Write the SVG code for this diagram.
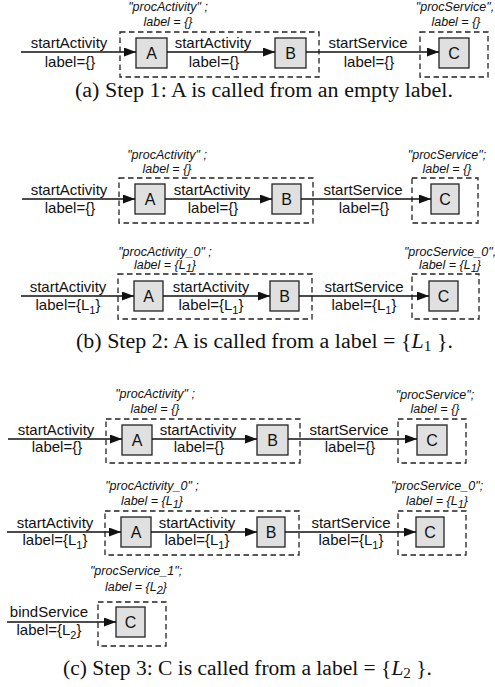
<svg xmlns="http://www.w3.org/2000/svg" width="495" height="687" viewBox="0 0 495 687">
<defs>
<marker id="arr" markerUnits="userSpaceOnUse" markerWidth="13" markerHeight="10" refX="12" refY="4.5" orient="auto">
<path d="M0,0 L12,4.5 L0,9 z" fill="#111"/>
</marker>
<style>
.box{fill:#e0e0e0;stroke:#222;stroke-width:1.3}
.proc{fill:none;stroke:#222;stroke-width:1.3;stroke-dasharray:5.5 3.5}
.edge{stroke:#111;stroke-width:1.3;fill:none;marker-end:url(#arr)}
.lbl{font-family:"Liberation Sans",Arial,sans-serif;font-size:15px;text-anchor:middle;fill:#111}
.nd{font-family:"Liberation Sans",Arial,sans-serif;font-size:16px;text-anchor:middle;fill:#111}
.ttl{font-family:"Liberation Sans",Arial,sans-serif;font-size:12.5px;font-style:italic;text-anchor:middle;fill:#111}
.cap{font-family:"Liberation Serif","Times New Roman",serif;font-size:20px;fill:#111}
.sub{font-size:11px}
.csub{font-size:14px}
</style>
</defs>
<rect width="495" height="687" fill="#fff"/>

<!-- (a) step 1 -->
<g id="a-procActivity"><rect class="proc" x="120" y="32" width="199" height="45"/>
<text class="ttl" x="168" y="11">"procActivity" ;</text><text class="ttl" x="168" y="26">label = {}</text></g>
<g id="a-procService"><rect class="proc" x="420" y="32" width="68" height="45"/>
<text class="ttl" x="455" y="11">"procService",</text><text class="ttl" x="456" y="26">label = {}</text></g>
<g id="a-A"><rect class="box" x="136" y="38" width="31" height="30"/><text class="nd" x="151.5" y="59">A</text></g>
<g id="a-B"><rect class="box" x="275" y="38" width="31" height="30"/><text class="nd" x="290.5" y="59">B</text></g>
<g id="a-C"><rect class="box" x="439" y="38" width="30" height="30"/><text class="nd" x="454" y="59">C</text></g>
<g id="a-edges">
<path class="edge" d="M21,52H136"/><text class="lbl" x="69" y="48">startActivity</text><text class="lbl" x="70" y="67">label={}</text>
<path class="edge" d="M167,52H275"/><text class="lbl" x="213" y="48">startActivity</text><text class="lbl" x="214" y="67">label={}</text>
<path class="edge" d="M306,52H439"/><text class="lbl" x="368" y="48">startService</text><text class="lbl" x="369" y="67">label={}</text>
</g>
<text class="cap" x="75" y="97" textLength="378" lengthAdjust="spacingAndGlyphs">(a) Step 1: A is called from an empty label.</text>

<!-- (b) step 2, first call -->
<g id="b1-procActivity"><rect class="proc" x="119" y="178" width="194" height="45"/>
<text class="ttl" x="167" y="159">"procActivity" ;</text><text class="ttl" x="167" y="173">label = {}</text></g>
<g id="b1-procService"><rect class="proc" x="412" y="178" width="66" height="45"/>
<text class="ttl" x="447" y="159">"procService";</text><text class="ttl" x="447" y="173">label = {}</text></g>
<g id="b1-A"><rect class="box" x="135" y="184" width="30" height="30"/><text class="nd" x="150" y="205">A</text></g>
<g id="b1-B"><rect class="box" x="272" y="184" width="29" height="30"/><text class="nd" x="286.5" y="205">B</text></g>
<g id="b1-C"><rect class="box" x="431" y="184" width="28" height="30"/><text class="nd" x="445" y="205">C</text></g>
<g id="b1-edges">
<path class="edge" d="M22,199H135"/><text class="lbl" x="69" y="195">startActivity</text><text class="lbl" x="70" y="213">label={}</text>
<path class="edge" d="M165,199H272"/><text class="lbl" x="212" y="195">startActivity</text><text class="lbl" x="213" y="213">label={}</text>
<path class="edge" d="M301,199H431"/><text class="lbl" x="363" y="195">startService</text><text class="lbl" x="364" y="213">label={}</text>
</g>

<!-- (b) step 2, call from L1 -->
<g id="b2-procActivity"><rect class="proc" x="118" y="274" width="194" height="45"/>
<text class="ttl" x="165" y="256">"procActivity_0" ;</text><text class="ttl" x="165" y="269">label = {L<tspan class="sub" dy="3">1</tspan><tspan dy="-3">}</tspan></text></g>
<g id="b2-procService"><rect class="proc" x="412" y="274" width="67" height="45"/>
<text class="ttl" x="450" y="256">"procService_0",</text><text class="ttl" x="450" y="269">label = {L<tspan class="sub" dy="3">1</tspan><tspan dy="-3">}</tspan></text></g>
<g id="b2-A"><rect class="box" x="134" y="281" width="29" height="30"/><text class="nd" x="148.5" y="302">A</text></g>
<g id="b2-B"><rect class="box" x="270" y="281" width="29" height="30"/><text class="nd" x="284.5" y="302">B</text></g>
<g id="b2-C"><rect class="box" x="429" y="281" width="29" height="30"/><text class="nd" x="443.5" y="302">C</text></g>
<g id="b2-edges">
<path class="edge" d="M21,296H134"/><text class="lbl" x="68" y="292">startActivity</text><text class="lbl" x="68" y="310">label={L<tspan class="sub" dy="4">1</tspan><tspan dy="-4">}</tspan></text>
<path class="edge" d="M163,296H270"/><text class="lbl" x="211" y="292">startActivity</text><text class="lbl" x="211" y="310">label={L<tspan class="sub" dy="4">1</tspan><tspan dy="-4">}</tspan></text>
<path class="edge" d="M299,296H429"/><text class="lbl" x="364" y="292">startService</text><text class="lbl" x="364" y="310">label={L<tspan class="sub" dy="4">1</tspan><tspan dy="-4">}</tspan></text>
</g>
<text class="cap" x="76" y="348" textLength="377" lengthAdjust="spacingAndGlyphs">(b) Step 2: A is called from a label = {<tspan font-style="italic">L</tspan><tspan class="csub" dy="3">1</tspan><tspan dy="-3"> }.</tspan></text>

<!-- (c) step 3, first call -->
<g id="c1-procActivity"><rect class="proc" x="106" y="419" width="194" height="44"/>
<text class="ttl" x="155" y="398">"procActivity" ;</text><text class="ttl" x="155" y="413">label = {}</text></g>
<g id="c1-procService"><rect class="proc" x="398" y="419" width="68" height="44"/>
<text class="ttl" x="435" y="399">"procService";</text><text class="ttl" x="435" y="413">label = {}</text></g>
<g id="c1-A"><rect class="box" x="122" y="425" width="30" height="30"/><text class="nd" x="137" y="446">A</text></g>
<g id="c1-B"><rect class="box" x="257" y="425" width="31" height="30"/><text class="nd" x="272.5" y="446">B</text></g>
<g id="c1-C"><rect class="box" x="417" y="425" width="30" height="30"/><text class="nd" x="432" y="446">C</text></g>
<g id="c1-edges">
<path class="edge" d="M8,439H122"/><text class="lbl" x="56" y="435">startActivity</text><text class="lbl" x="57" y="452">label={}</text>
<path class="edge" d="M152,439H257"/><text class="lbl" x="198" y="435">startActivity</text><text class="lbl" x="199" y="452">label={}</text>
<path class="edge" d="M288,439H417"/><text class="lbl" x="349" y="435">startService</text><text class="lbl" x="350" y="452">label={}</text>
</g>

<!-- (c) step 3, call from L1 -->
<g id="c2-procActivity"><rect class="proc" x="105" y="511" width="194" height="44"/>
<text class="ttl" x="152" y="490">"procActivity_0" ;</text><text class="ttl" x="152" y="505">label = {L<tspan class="sub" dy="3">1</tspan><tspan dy="-3">}</tspan></text></g>
<g id="c2-procService"><rect class="proc" x="398" y="511" width="68" height="44"/>
<text class="ttl" x="437" y="490">"procService_0";</text><text class="ttl" x="437" y="505">label = {L<tspan class="sub" dy="3">1</tspan><tspan dy="-3">}</tspan></text></g>
<g id="c2-A"><rect class="box" x="121" y="517" width="30" height="30"/><text class="nd" x="136" y="538">A</text></g>
<g id="c2-B"><rect class="box" x="257" y="517" width="28" height="30"/><text class="nd" x="271" y="538">B</text></g>
<g id="c2-C"><rect class="box" x="416" y="517" width="28" height="30"/><text class="nd" x="430" y="538">C</text></g>
<g id="c2-edges">
<path class="edge" d="M7,532H121"/><text class="lbl" x="55" y="528">startActivity</text><text class="lbl" x="55" y="545">label={L<tspan class="sub" dy="4">1</tspan><tspan dy="-4">}</tspan></text>
<path class="edge" d="M151,532H257"/><text class="lbl" x="197" y="528">startActivity</text><text class="lbl" x="197" y="545">label={L<tspan class="sub" dy="4">1</tspan><tspan dy="-4">}</tspan></text>
<path class="edge" d="M285,532H416"/><text class="lbl" x="351" y="528">startService</text><text class="lbl" x="351" y="545">label={L<tspan class="sub" dy="4">1</tspan><tspan dy="-4">}</tspan></text>
</g>

<!-- (c) step 3, bind from L2 -->
<g id="c3-procService"><rect class="proc" x="98" y="602" width="68" height="44"/>
<text class="ttl" x="136" y="575">"procService_1";</text><text class="ttl" x="136" y="591">label = {L<tspan class="sub" dy="3">2</tspan><tspan dy="-3">}</tspan></text></g>
<g id="c3-C"><rect class="box" x="116" y="607" width="29" height="30"/><text class="nd" x="130.5" y="628">C</text></g>
<g id="c3-edges">
<path class="edge" d="M7,622H116"/><text class="lbl" x="49" y="617">bindService</text><text class="lbl" x="49" y="635">label={L<tspan class="sub" dy="4">2</tspan><tspan dy="-4">}</tspan></text>
</g>
<text class="cap" x="63" y="675" textLength="369" lengthAdjust="spacingAndGlyphs">(c) Step 3: C is called from a label = {<tspan font-style="italic">L</tspan><tspan class="csub" dy="3">2</tspan><tspan dy="-3"> }.</tspan></text>
</svg>
